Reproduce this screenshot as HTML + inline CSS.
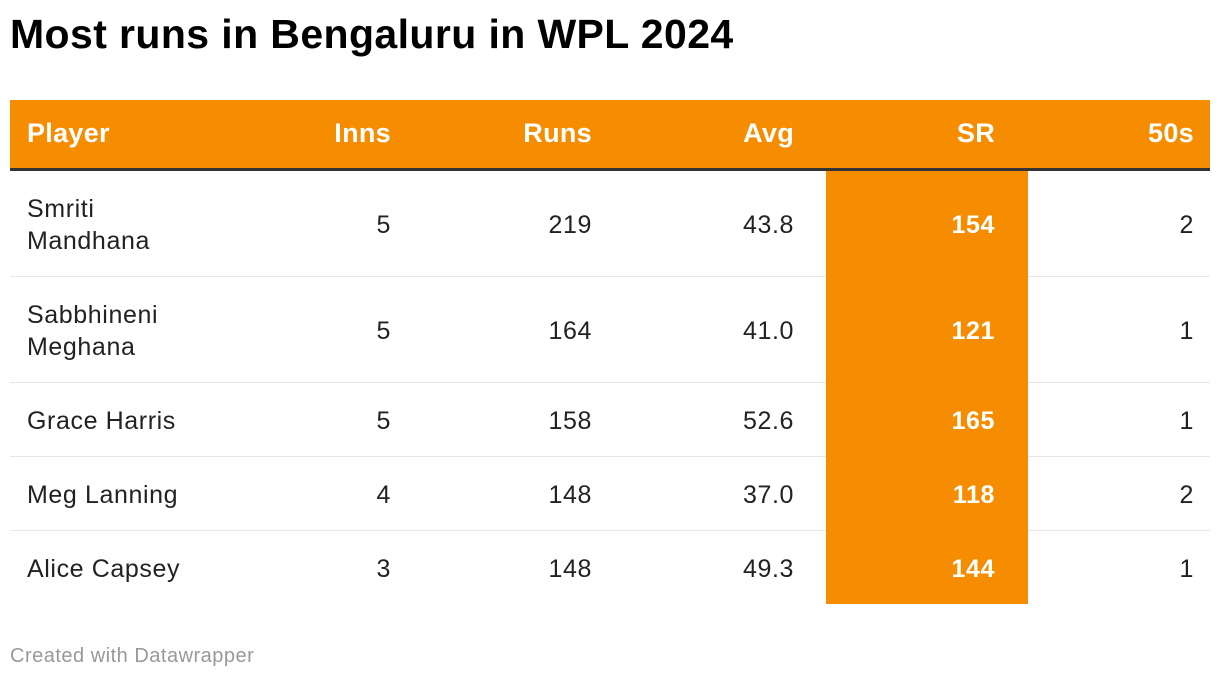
<!DOCTYPE html>
<html><head><meta charset="utf-8"><style>
body{margin:0;width:1220px;height:680px;background:#fff;font-family:"Liberation Sans",sans-serif;position:relative;overflow:hidden;color:#222}
.a{position:absolute}
h1{position:absolute;left:10px;top:11px;margin:0;font-size:41px;font-weight:bold;color:#000;letter-spacing:0.4px}
.hdr{left:10px;top:100px;width:1200px;height:68px;background:#F68D00}
.line{left:10px;top:168px;width:1200px;height:3px;background:#333}
.sr{left:826px;top:171px;width:202px;height:433px;background:#F68D00}
.sep{left:10px;width:1200px;height:1px;background:#e6e6e6}
.h{font-size:27px;font-weight:bold;color:#fff;letter-spacing:0.3px}
.c{font-size:25px;line-height:32px;letter-spacing:0.6px}
.r{text-align:right;width:150px}
.b{font-weight:bold;color:#fff}
.foot{left:10px;top:645px;font-size:20px;color:#999;letter-spacing:0.5px}
</style></head><body>
<h1>Most runs in Bengaluru in WPL 2024</h1>
<div class="a hdr"></div><div class="a line"></div>
<div class="a sep" style="top:276px"></div>
<div class="a sep" style="top:382px"></div>
<div class="a sep" style="top:456px"></div>
<div class="a sep" style="top:530px"></div>
<div class="a sr"></div>
<div class="a h" style="left:27px;top:118px">Player</div>
<div class="a h r" style="left:241px;top:118px">Inns</div>
<div class="a h r" style="left:442px;top:118px">Runs</div>
<div class="a h r" style="left:644px;top:118px">Avg</div>
<div class="a h r" style="left:845px;top:118px">SR</div>
<div class="a h r" style="left:1044px;top:118px">50s</div>

<div class="a c" style="left:27px;top:193px">Smriti<br>Mandhana</div>
<div class="a c r" style="left:241px;top:209px">5</div>
<div class="a c r" style="left:442px;top:209px">219</div>
<div class="a c r" style="left:644px;top:209px">43.8</div>
<div class="a c r b" style="left:845px;top:209px">154</div>
<div class="a c r" style="left:1044px;top:209px">2</div>

<div class="a c" style="left:27px;top:299px">Sabbhineni<br>Meghana</div>
<div class="a c r" style="left:241px;top:315px">5</div>
<div class="a c r" style="left:442px;top:315px">164</div>
<div class="a c r" style="left:644px;top:315px">41.0</div>
<div class="a c r b" style="left:845px;top:315px">121</div>
<div class="a c r" style="left:1044px;top:315px">1</div>

<div class="a c" style="left:27px;top:405px">Grace Harris</div>
<div class="a c r" style="left:241px;top:405px">5</div>
<div class="a c r" style="left:442px;top:405px">158</div>
<div class="a c r" style="left:644px;top:405px">52.6</div>
<div class="a c r b" style="left:845px;top:405px">165</div>
<div class="a c r" style="left:1044px;top:405px">1</div>

<div class="a c" style="left:27px;top:479px">Meg Lanning</div>
<div class="a c r" style="left:241px;top:479px">4</div>
<div class="a c r" style="left:442px;top:479px">148</div>
<div class="a c r" style="left:644px;top:479px">37.0</div>
<div class="a c r b" style="left:845px;top:479px">118</div>
<div class="a c r" style="left:1044px;top:479px">2</div>

<div class="a c" style="left:27px;top:553px">Alice Capsey</div>
<div class="a c r" style="left:241px;top:553px">3</div>
<div class="a c r" style="left:442px;top:553px">148</div>
<div class="a c r" style="left:644px;top:553px">49.3</div>
<div class="a c r b" style="left:845px;top:553px">144</div>
<div class="a c r" style="left:1044px;top:553px">1</div>

<div class="a foot">Created with Datawrapper</div>
</body></html>
